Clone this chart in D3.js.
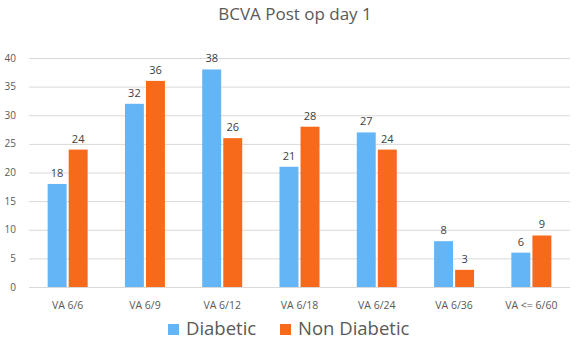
<!DOCTYPE html>
<html>
<head>
<meta charset="utf-8">
<script src="https://cdn.jsdelivr.net/npm/d3@7"></script>
<style>
    body { margin: 0; background: #fff; }
    text { font-family: "Open Sans", "Liberation Sans", sans-serif; }
</style>
</head>
<body>
<div id="chart"></div>
<script>
"use strict";

var categories = ["VA 6/6", "VA 6/9", "VA 6/12", "VA 6/18", "VA 6/24", "VA 6/36", "VA <= 6/60"];
var series_names = ["Diabetic", "Non Diabetic"];
var diabetic = [18, 32, 38, 21, 27, 8, 6];
var non_diabetic = [24, 36, 26, 28, 24, 3, 9];
var y_ticks = [0, 5, 10, 15, 20, 25, 30, 35, 40];

var colors = ["#64b5f6", "#f7691b"];

var specs = {
    w: 576,
    h: 340,
    left: 29,
    right: 570,
    top: 58,
    bottom: 287
};

var svg = d3.select("#chart").append("svg")
    .attr("width", specs.w)
    .attr("height", specs.h);

// title
svg.append("text")
    .attr("x", 295)
    .attr("y", 20)
    .attr("text-anchor", "middle")
    .style("font-size", "17px")
    .attr("fill", "#595959")
    .text("BCVA Post op day 1");

var x = d3.scaleBand()
    .domain(categories)
    .range([specs.left, specs.right]);

var xs = d3.scaleBand()
    .domain(series_names)
    .range([x.bandwidth() / 2 - 20, x.bandwidth() / 2 + 20])
    .paddingInner(0.1);

var y = d3.scaleLinear()
    .domain([0, 40])
    .range([specs.bottom, specs.top]);

// gridlines
svg.append("g")
    .selectAll("line")
    .data(y_ticks)
    .enter()
    .append("line")
    .attr("x1", specs.left)
    .attr("x2", specs.right)
    .attr("y1", function(d) { return y(d) + 0.5; })
    .attr("y2", function(d) { return y(d) + 0.5; })
    .attr("stroke", "#d9d9d9")
    .attr("stroke-width", 1);

// y tick labels
svg.append("g")
    .selectAll("text")
    .data(y_ticks)
    .enter()
    .append("text")
    .attr("x", 16)
    .attr("y", function(d) { return y(d); })
    .attr("dy", "0.35em")
    .attr("text-anchor", "end")
    .style("font-size", "10px")
    .attr("fill", "#595959")
    .text(function(d) { return d; });

// x labels
svg.append("g")
    .selectAll("text")
    .data(categories)
    .enter()
    .append("text")
    .attr("x", function(d) { return x(d) + x.bandwidth() / 2; })
    .attr("y", 309)
    .attr("text-anchor", "middle")
    .style("font-size", "10.5px")
    .attr("fill", "#595959")
    .text(function(d) { return d; });

var groups = [diabetic, non_diabetic];

groups.forEach(function(values, si) {
    var g = svg.append("g");
    g.selectAll("rect")
        .data(values)
        .enter()
        .append("rect")
        .attr("x", function(d, i) { return x(categories[i]) + xs(series_names[si]); })
        .attr("y", function(d) { return y(d); })
        .attr("width", xs.bandwidth())
        .attr("height", function(d) { return y(0) - y(d); })
        .attr("fill", colors[si]);

    g.selectAll("text")
        .data(values)
        .enter()
        .append("text")
        .attr("x", function(d, i) { return x(categories[i]) + xs(series_names[si]) + xs.bandwidth() / 2; })
        .attr("y", function(d) { return y(d) - 7; })
        .attr("text-anchor", "middle")
        .style("font-size", "11px")
        .attr("fill", "#404040")
        .text(function(d) { return d; });
});

// legend
var legend_x = [168, 280];
var legend = svg.append("g")
    .selectAll("g")
    .data(series_names)
    .enter()
    .append("g")
    .attr("transform", function(d, i) { return "translate(" + legend_x[i] + ",324)"; });

legend.append("rect")
    .attr("width", 11)
    .attr("height", 11)
    .attr("fill", function(d, i) { return colors[i]; });

legend.append("text")
    .attr("x", 18)
    .attr("y", 11)
    .style("font-size", "18.5px")
    .attr("fill", "#595959")
    .text(function(d) { return d; });
</script>
</body>
</html>
